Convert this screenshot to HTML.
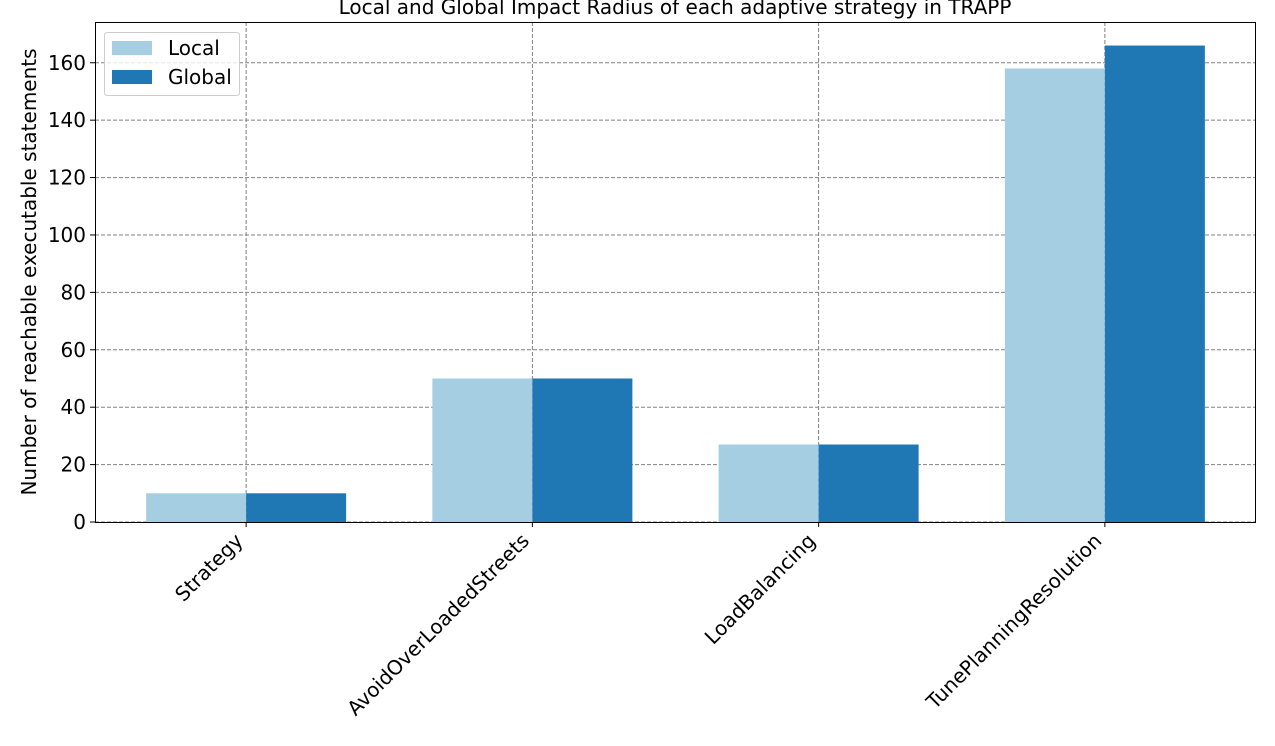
<!DOCTYPE html>
<html><head><meta charset="utf-8"><style>
body{margin:0;background:#fff;}
svg{display:block;font-family:"DejaVu Sans","Liberation Sans",sans-serif;}
</style></head><body>
<svg id="chart" width="1275" height="746">
<text x="675" y="14" text-anchor="middle" font-size="20">Local and Global Impact Radius of each adaptive strategy in TRAPP</text>
<g id="grid"></g><g id="bars"></g><g id="axes"></g>
<text transform="translate(36,272) rotate(-90)" text-anchor="middle" font-size="20">Number of reachable executable statements</text>
<g>
<rect x="104.5" y="32.5" width="135" height="63" rx="3" fill="#fff" fill-opacity="0.8" stroke="#ccc"/>
<rect x="112" y="41" width="40" height="14" fill="#a6cee3"/>
<text x="168" y="55" font-size="20">Local</text>
<rect x="112" y="70" width="40" height="14" fill="#1f78b4"/>
<text x="168" y="84" font-size="20">Global</text>
</g>
</svg>
<script>
const categories=["Strategy","AvoidOverLoadedStreets","LoadBalancing","TunePlanningResolution"];
const localValues=[10,50,27,158];
const globalValues=[10,50,27,166];
const yTicks=[0,20,40,60,80,100,120,140,160];
const NS="http://www.w3.org/2000/svg";
const L=95,R=1256,T=22,B=522;
const yMax=174.2;
const y=v=>B-(v/yMax)*(B-T);
const x=i=>L+(i+0.528)*(R-L)/(categories.length-1+1.056);
const bw=100;
function mk(t,a,p){const e=document.createElementNS(NS,t);for(const k in a)e.setAttribute(k,a[k]);p.appendChild(e);return e;}
const grid=document.getElementById('grid'),bars=document.getElementById('bars'),axes=document.getElementById('axes');
yTicks.forEach(v=>{
 const g=mk('line',{x1:L,x2:R,y1:y(v),y2:y(v),stroke:'#808080','stroke-dasharray':'4,2','stroke-width':1},grid);
 
 
 mk('line',{x1:L-5,x2:L,y1:y(v),y2:y(v),stroke:'#000'},axes);
 const t=mk('text',{x:L-9,y:y(v)+7,'text-anchor':'end','font-size':20},axes);t.textContent=v;
 
 
});
categories.forEach((c,i)=>{
 const cx=x(i);
 const g=mk('line',{x1:cx,x2:cx,y1:T,y2:B,stroke:'#808080','stroke-dasharray':'4,2'},grid);
 
 
 const b1=mk('rect',{x:cx-bw,y:y(localValues[i]),width:bw,height:B-y(localValues[i]),fill:'#a6cee3'},bars);
 
 
 const b2=mk('rect',{x:cx,y:y(globalValues[i]),width:bw,height:B-y(globalValues[i]),fill:'#1f78b4'},bars);
 
 
 mk('line',{x1:cx,x2:cx,y1:B,y2:B+5,stroke:'#000'},axes);
 const t=mk('text',{transform:`translate(${cx-2},${B+20}) rotate(-45)`,'text-anchor':'end','font-size':20},axes);t.textContent=c;
 
 
});
mk('rect',{x:L+0.5,y:T+0.5,width:R-L-1,height:B-T,fill:'none',stroke:'#000'},axes);
</script>
</body></html>
